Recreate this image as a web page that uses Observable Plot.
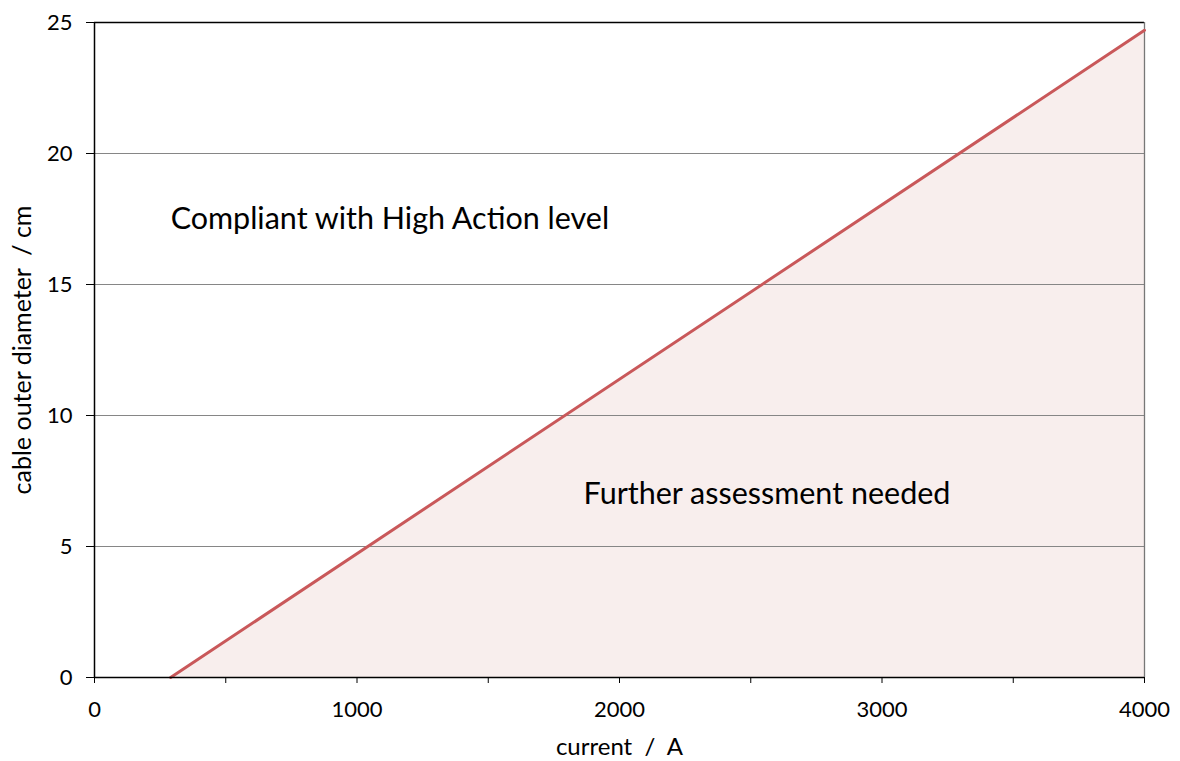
<!DOCTYPE html>
<html>
<head>
<meta charset="utf-8">
<script src="https://cdn.jsdelivr.net/npm/d3@7"></script>
<script src="https://cdn.jsdelivr.net/npm/@observablehq/plot@0.6"></script>
<style>
  html, body { margin: 0; padding: 0; background: #fff; }
  svg { display: block; }
</style>
</head>
<body>
<div id="chart"></div>
<script>
// Boundary line: cable outer diameter vs current
const current = [290, 4000];
const diameter = [0, 24.7];

const xTickValues = [0, 1000, 2000, 3000, 4000];
const xMinorTicks = [0, 500, 1000, 1500, 2000, 2500, 3000, 3500, 4000];
const yTickValues = [0, 5, 10, 15, 20, 25];
const gridValues = [5, 10, 15, 20];

const regionLabels = ["Compliant with High Action level", "Further assessment needed"];
const regionX = [290, 1863];
const regionY = [17.5, 7];

const xLabel = "current  /  A";
const yLabel = "cable outer diameter  / cm";

const lineData = current.map((c, i) => ({current: c, diameter: diameter[i]}));
const labelData = regionLabels.map((t, i) => ({text: t, x: regionX[i], y: regionY[i]}));

const chart = Plot.plot({
  width: 1180,
  height: 761,
  marginLeft: 94,
  marginRight: 36,
  marginTop: 22,
  marginBottom: 84,
  style: {fontFamily: "Lato, 'Open Sans', sans-serif", fontSize: "22px", color: "#000", background: "#fff"},
  x: {domain: [0, 4000], label: null},
  y: {domain: [0, 25], label: null},
  marks: [
    Plot.areaY(lineData, {x: "current", y: "diameter", fill: "#f8eeed"}),
    Plot.ruleY(gridValues, {stroke: "#868686", strokeWidth: 1}),
    Plot.ruleY([25], {stroke: "#000", strokeWidth: 1.3}),
    Plot.ruleX([4000], {stroke: "#777", strokeWidth: 1.3}),
    Plot.line(lineData, {x: "current", y: "diameter", stroke: "#c9585a", strokeWidth: 3}),
    Plot.axisX({ticks: xMinorTicks, tickSize: 6, tickFormat: () => "", stroke: "#000", strokeWidth: 1, label: null}),
    Plot.axisX({ticks: xTickValues, tickSize: 0, tickPadding: 24, tickFormat: d => String(d), fontSize: 22, label: null}),
    Plot.axisY({ticks: yTickValues, tickSize: 8, tickPadding: 14, tickFormat: d => String(d), fontSize: 22, stroke: "#000", label: null}),
    Plot.ruleY([0], {stroke: "#000", strokeWidth: 1.5}),
    Plot.ruleX([0], {stroke: "#000", strokeWidth: 1.5}),
    Plot.text(labelData, {x: "x", y: "y", text: "text", textAnchor: "start", fontSize: 30.5, fill: "#000"}),
    Plot.text([xLabel], {frameAnchor: "bottom", textAnchor: "middle", dy: 77, fontSize: 24, fill: "#000"}),
    Plot.text([yLabel], {frameAnchor: "left", textAnchor: "middle", dx: -72, rotate: -90, fontSize: 25, fill: "#000"})
  ]
});
document.getElementById("chart").appendChild(chart);
</script>
</body>
</html>
